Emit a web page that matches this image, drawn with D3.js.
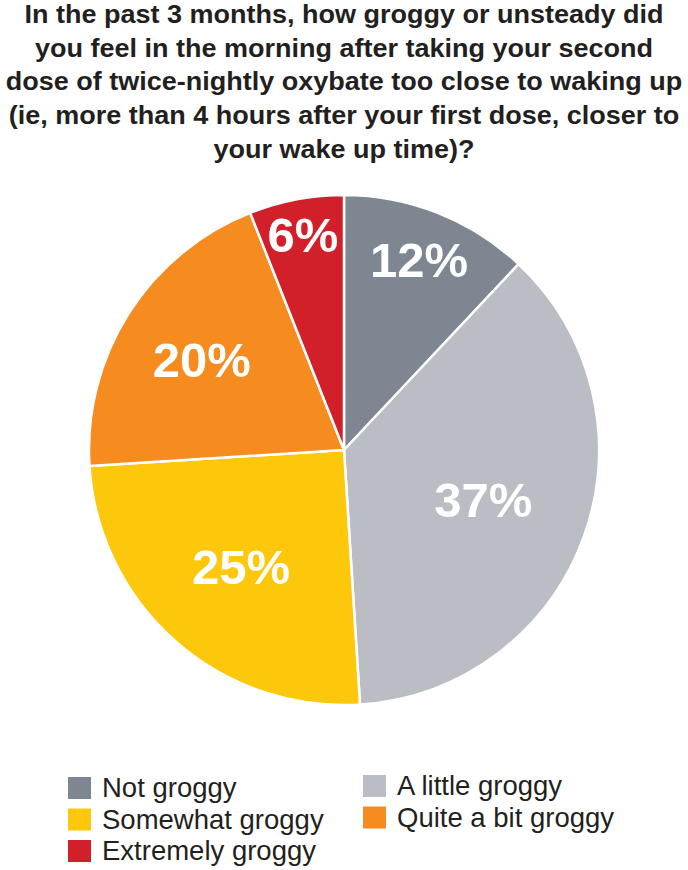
<!DOCTYPE html>
<html>
<head>
<meta charset="utf-8">
<script src="https://cdn.jsdelivr.net/npm/d3@7"></script>
<style>
  body { margin: 0; background: #fff; }
  svg { display: block; }
</style>
</head>
<body>
<svg id="chart"></svg>
<script>
// ---------- data ----------
var categories = ["Not groggy", "A little groggy", "Somewhat groggy", "Quite a bit groggy", "Extremely groggy"];
var percents = [12, 37, 25, 20, 6];
var titleLines = [
  "In the past 3 months, how groggy or unsteady did",
  "you feel in the morning after taking your second",
  "dose of twice-nightly oxybate too close to waking up",
  "(ie, more than 4 hours after your first dose, closer to",
  "your wake up time)?"
];
var legendOrder = ["Not groggy", "A little groggy", "Somewhat groggy", "Quite a bit groggy", "Extremely groggy"];

// ---------- look ----------
var colors = ["#7e8791", "#babdc4", "#fdc80b", "#f68b1f", "#d2202a"];
var labelRadius = [0.80, 0.58, 0.61, 0.66, 0.86]; // fraction of r, by slice

var screen = {width: 688, height: 870};
var svg = d3.select("#chart")
  .attr("width", screen.width)
  .attr("height", screen.height);

var color = d3.scaleOrdinal().domain(categories).range(colors);

//----------title----------
var title = svg.append("g")
  .attr("font-family", "'Liberation Sans', Arial, sans-serif")
  .attr("font-weight", "bold")
  .attr("font-size", 25)
  .attr("fill", "#231f20");

title.selectAll("text")
  .data(titleLines)
  .enter()
  .append("text")
  .attr("x", 344)
  .attr("y", function (d, i) { return 23 + i * 33.7; })
  .attr("text-anchor", "middle")
  .text(function (d) { return d; })
  .each(function () {
    var w = this.getComputedTextLength();
    d3.select(this)
      .attr("textLength", w * 1.08)
      .attr("lengthAdjust", "spacingAndGlyphs");
  });

//----------pie----------
var cx = 344, cy = 450, r = 255;

var pie = d3.pie().sort(null).value(function (d) { return d; });
var arcs = pie(percents);
var arc = d3.arc().innerRadius(0).outerRadius(r);

var g = svg.append("g").attr("transform", "translate(" + cx + "," + cy + ")");

g.selectAll("path")
  .data(arcs)
  .enter()
  .append("path")
  .attr("d", arc)
  .attr("fill", function (d, i) { return color(categories[i]); })
  .attr("stroke", "#fff")
  .attr("stroke-width", 2.5)
  .attr("stroke-linejoin", "round");

g.selectAll("text")
  .data(arcs)
  .enter()
  .append("text")
  .attr("transform", function (d, i) {
    var lr = r * labelRadius[i];
    var c = d3.arc().innerRadius(lr).outerRadius(lr).centroid(d);
    return "translate(" + c[0] + "," + c[1] + ")";
  })
  .attr("dy", 17)
  .attr("text-anchor", "middle")
  .attr("font-family", "'Liberation Sans', Arial, sans-serif")
  .attr("font-weight", "bold")
  .attr("font-size", 49)
  .attr("fill", "#fff")
  .text(function (d) { return d.data + "%"; });

//----------legend----------
var legend = svg.append("g")
  .attr("font-family", "'Liberation Sans', Arial, sans-serif")
  .attr("font-size", 27.5)
  .attr("fill", "#231f20");

var items = legend.selectAll("g")
  .data(legendOrder)
  .enter()
  .append("g")
  .attr("transform", function (d, i) {
    var col = i % 2, row = Math.floor(i / 2);
    var x = col === 0 ? 68 : 363;
    var y = (col === 0 ? 777 : 775) + row * 31.5;
    return "translate(" + x + "," + y + ")";
  });

items.append("rect")
  .attr("width", 23)
  .attr("height", 22)
  .attr("fill", function (d) { return color(d); });

items.append("text")
  .attr("x", 34)
  .attr("y", 20)
  .text(function (d) { return d; });
</script>
</body>
</html>
